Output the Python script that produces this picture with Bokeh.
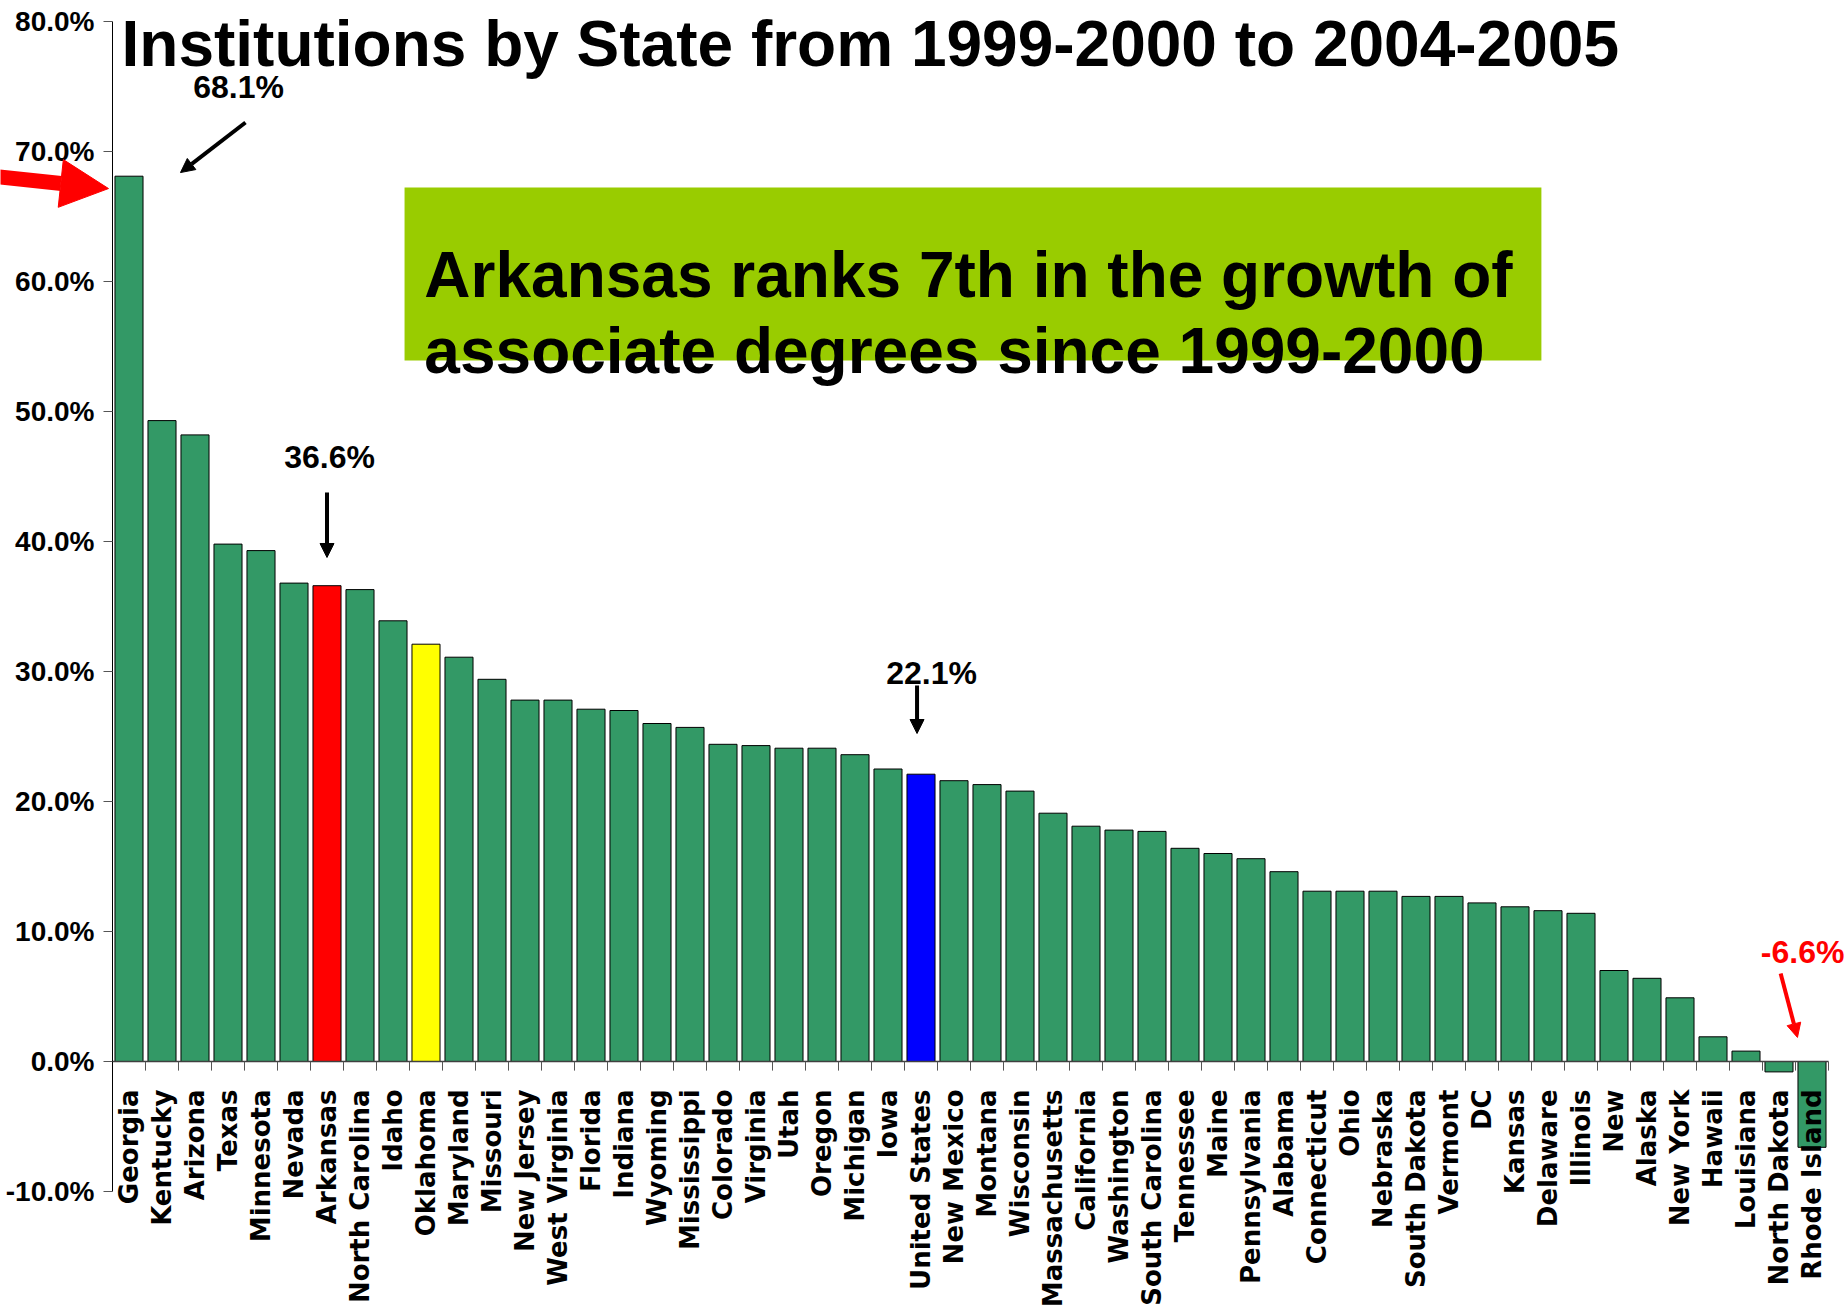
import math
from bokeh.plotting import figure
from bokeh.models import (Range1d, FixedTicker, PrintfTickFormatter, Label, Arrow,
                          NormalHead, BoxAnnotation, ColumnDataSource)
from bokeh.core.properties import value
from bokeh.embed import file_html
from bokeh.resources import INLINE

# ---------------- data ----------------
states = ["Georgia", "Kentucky", "Arizona", "Texas", "Minnesota", "Nevada", "Arkansas",
          "North Carolina", "Idaho", "Oklahoma", "Maryland", "Missouri", "New Jersey",
          "West Virginia", "Florida", "Indiana", "Wyoming", "Mississippi", "Colorado",
          "Virginia", "Utah", "Oregon", "Michigan", "Iowa", "United States", "New Mexico",
          "Montana", "Wisconsin", "Massachusetts", "California", "Washington",
          "South Carolina", "Tennessee", "Maine", "Pennsylvania", "Alabama", "Connecticut",
          "Ohio", "Nebraska", "South Dakota", "Vermont", "DC", "Kansas", "Delaware",
          "Illinois", "New", "Alaska", "New York", "Hawaii", "Louisiana", "North Dakota",
          "Rhode Island"]
growth = [68.1, 49.3, 48.2, 39.8, 39.3, 36.8, 36.6,
          36.3, 33.9, 32.1, 31.1, 29.4, 27.8,
          27.8, 27.1, 27.0, 26.0, 25.7, 24.4,
          24.3, 24.1, 24.1, 23.6, 22.5, 22.1, 21.6,
          21.3, 20.8, 19.1, 18.1, 17.8,
          17.7, 16.4, 16.0, 15.6, 14.6, 13.1,
          13.1, 13.1, 12.7, 12.7, 12.2, 11.9, 11.6,
          11.4, 7.0, 6.4, 4.9, 1.9, 0.8, -0.8,
          -6.6]
highlight = {"Arkansas": "#FF0000", "Oklahoma": "#FFFF00", "United States": "#0000FF"}
base_color = "#339966"
y_ticks = [-10, 0, 10, 20, 30, 40, 50, 60, 70, 80]

title_text = "Institutions by State from 1999-2000 to 2004-2005"
box_lines = ["Arkansas ranks 7th in the growth of", "associate degrees since 1999-2000"]

# ---------------- figure ----------------
n = len(states)
xs = list(range(n))
colors = [highlight.get(s, base_color) for s in states]
src = ColumnDataSource(dict(x=xs, top=growth, color=colors, name=states))

PX_X = 33.0   # px per category
PX_Y = 13.0   # px per percentage point
AXIS_PX = 112  # where the value axis sits
x_start = -0.5 - AXIS_PX / PX_X
x_end = -0.5 + 1733 / PX_X
p = figure(width=1845, height=1308, x_range=Range1d(x_start, x_end),
           y_range=Range1d(-19.0, 80 + 21 / PX_Y),
           x_axis_location=None, output_backend="svg", toolbar_location=None,
           min_border_left=0, min_border_right=0, min_border_top=0, min_border_bottom=0)
p.outline_line_color = None
p.xgrid.visible = False
p.ygrid.visible = False
p.background_fill_color = "white"

ax = p.yaxis[0]
ax.fixed_location = -0.5
ax.ticker = FixedTicker(ticks=y_ticks)
ax.formatter = PrintfTickFormatter(format="%.1f%%")
ax.bounds = (y_ticks[0], y_ticks[-1])
ax.major_tick_out = 9
ax.major_tick_in = 0
ax.minor_tick_out = 0
ax.minor_tick_in = 0
ax.major_label_standoff = 9
ax.major_label_text_font = "Liberation Sans"
ax.major_label_text_font_style = "bold"
ax.major_label_text_font_size = "28px"
ax.major_label_text_color = "black"
ax.axis_line_color = "black"
ax.major_tick_line_color = "#555555"

# green box behind
p.add_layout(BoxAnnotation(left=8.35, right=42.8, bottom=53.92, top=67.23,
                           fill_color="#99CC00", fill_alpha=1.0, line_color=None,
                           level="underlay"))

# bars
p.vbar(x="x", top="top", bottom=0, width=0.85, fill_color="color", line_color="black",
       line_width=1, source=src)

# zero line and category ticks
p.segment(x0=[-0.5], y0=[0], x1=[n - 0.5], y1=[0], line_color="#404040", line_width=1.5)
bounds = [i - 0.5 for i in range(n + 1)]
p.segment(x0=bounds, y0=[0] * len(bounds), x1=bounds, y1=[-0.7] * len(bounds),
          line_color="#555555", line_width=1)

# category labels
p.text(x=xs, y=[-2.15] * n, text=states, angle=math.pi / 2, text_align="right",
       text_baseline="middle", text_font=value("DejaVu Sans"), text_font_style="bold",
       text_font_size="26px", text_color="black")

def lab(x, y, txt, size, color="black", align="left"):
    # y is the wanted baseline; compensate the label's vertical offset
    p.add_layout(Label(x=x, y=y + 0.34 * size / PX_Y, text=txt, text_font="Liberation Sans",
                       text_font_style="bold", text_font_size=f"{size}px", text_color=color,
                       text_align=align, text_baseline="alphabetic"))

# title
lab(-0.227, 80 - 44 / PX_Y, title_text, 64)

# box text
lab(8.95, 80 - 275 / PX_Y, box_lines[0], 64)
lab(8.95, 80 - 351 / PX_Y, box_lines[1], 64)

def arrow(x0, y0, x1, y1, color="black", lw=4, size=14):
    p.add_layout(Arrow(x_start=x0, y_start=y0, x_end=x1, y_end=y1, line_color=color,
                       line_width=lw, end=NormalHead(size=size, fill_color=color,
                                                     line_color=color)))

i_ga = states.index("Georgia")
i_ar = states.index("Arkansas")
i_us = states.index("United States")
i_ri = states.index("Rhode Island")

lab(3.32, 80 - 76 / PX_Y, f"{growth[i_ga]:.1f}%", 32, align="center")
arrow(3.53, 72.23, 1.56, 68.38)

lab(i_ar + 0.08, 80 - 446 / PX_Y, f"{growth[i_ar]:.1f}%", 32, align="center")
arrow(i_ar, 43.77, i_ar, 38.77)

lab(i_us + 0.32, 80 - 662 / PX_Y, f"{growth[i_us]:.1f}%", 32, align="center")
arrow(i_us - 0.12, 28.92, i_us - 0.12, 25.23)

lab(i_ri - 1.55, 80 - 941 / PX_Y, f"{growth[i_ri]:.1f}%", 32, color="#FF0000", align="left")
arrow(i_ri - 0.95, 6.77, i_ri - 0.44, 1.85, color="#FF0000", lw=4, size=14)

# big red block arrow pointing at Georgia
arrow(-4.045, 68.08, -0.621, 67.15, color="#FF0000", lw=15, size=48)

open("out.html", "w").write(file_html(p, INLINE))
